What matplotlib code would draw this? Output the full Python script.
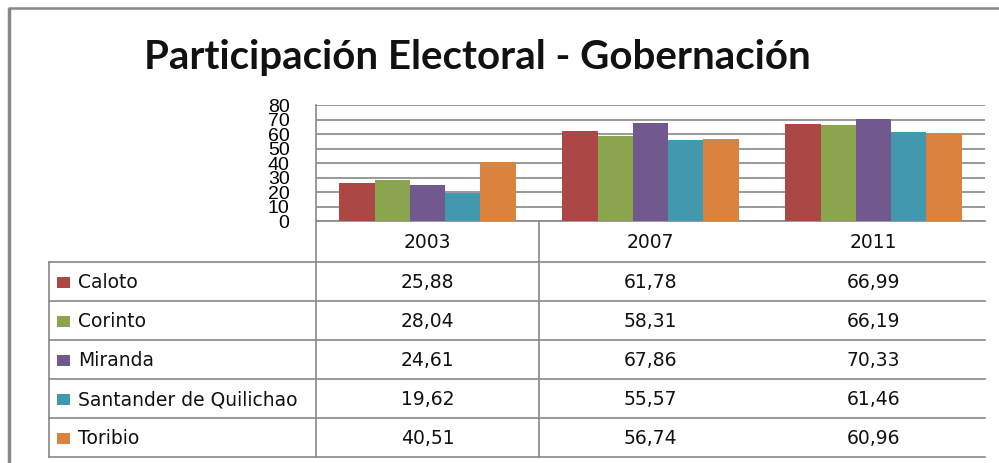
import matplotlib
matplotlib.use("Agg")
import matplotlib.pyplot as plt
from matplotlib.transforms import blended_transform_factory

# Data
years = ["2003", "2007", "2011"]
municipios = ["Caloto", "Corinto", "Miranda", "Santander de Quilichao", "Toribio"]
caloto = [25.88, 61.78, 66.99]
corinto = [28.04, 58.31, 66.19]
miranda = [24.61, 67.86, 70.33]
santander = [19.62, 55.57, 61.46]
toribio = [40.51, 56.74, 60.96]
series = [caloto, corinto, miranda, santander, toribio]
y_ticks = [0, 10, 20, 30, 40, 50, 60, 70, 80]

colors = ["#AB4744", "#8AA54E", "#71588E", "#4298AF", "#DA833C"]
line_col = "#888888"
W, H = 999, 463

fig = plt.figure(figsize=(W / 100, H / 100), dpi=100)

# background axes in pixel units (frame, table lines)
bg = fig.add_axes([0, 0, 1, 1])
bg.set_xlim(0, W)
bg.set_ylim(H, 0)
bg.axis("off")

# outer frame
bg.plot([9, 9], [8, H], color=line_col, lw=2.5, solid_capstyle="butt")
bg.plot([8, W], [8, 8], color=line_col, lw=1.8, solid_capstyle="butt")

# bar chart
left, right, top, zero = 316, 985, 105, 221
ax = fig.add_axes([left / W, 1 - zero / H, (right - left) / W, (zero - top) / H])
ax.patch.set_alpha(0)
n = len(series)
bw = 0.158
for j, vals in enumerate(series):
    xs = [i + (j - (n - 1) / 2) * bw for i in range(len(years))]
    ax.bar(xs, vals, width=bw, color=colors[j], zorder=3)
ax.set_xlim(-0.5, len(years) - 0.5)
ax.set_ylim(0, 80)
ax.set_yticks(y_ticks)
ax.set_yticklabels([str(v) for v in y_ticks], family="Liberation Sans", fontsize=14)
ax.tick_params(axis="y", length=0, pad=19)
ax.set_xticks([])
ax.yaxis.grid(True, color=line_col, lw=1.2, zorder=0)
for s in ["top", "right", "bottom"]:
    ax.spines[s].set_visible(False)
ax.spines["left"].set_color(line_col)
ax.spines["left"].set_linewidth(1.2)

# data table under the chart
tr = blended_transform_factory(ax.transData, bg.transData)
row_top = 262
row_h = 39
table_left = 49
sep = left + (right - left) / len(years)
lw = 1.2
bg.plot([left, right], [zero, zero], color=line_col, lw=lw)
for r in range(len(municipios) + 1):
    yy = row_top + r * row_h
    bg.plot([table_left, right], [yy, yy], color=line_col, lw=lw)
bottom = row_top + len(municipios) * row_h
bg.plot([table_left, table_left], [row_top, bottom], color=line_col, lw=lw)
bg.plot([left, left], [zero, bottom], color=line_col, lw=lw)
bg.plot([sep, sep], [zero, bottom], color=line_col, lw=lw)

tfont = dict(family="DejaVu Sans", fontsize=13.5, color="#111111")
for i, yr in enumerate(years):
    ax.text(i, (zero + row_top) / 2 + 1, yr, transform=tr, ha="center", va="center", **tfont)
for j, name in enumerate(municipios):
    yc = row_top + (j + 0.5) * row_h + 1
    bg.add_patch(plt.Rectangle((57, yc - 6), 13, 11, color=colors[j], lw=0))
    bg.text(78, yc, name, ha="left", va="center", **tfont)
    for i, v in enumerate(series[j]):
        ax.text(i, yc, f"{v:.2f}".replace(".", ","), transform=tr,
                ha="center", va="center", **tfont)

# title
bg.text(477, 57, "Participación Electoral - Gobernación", ha="center", va="center",
        family="Lato", fontweight="bold", fontsize=29, color="#111111")

fig.savefig("out.png", dpi=100)
